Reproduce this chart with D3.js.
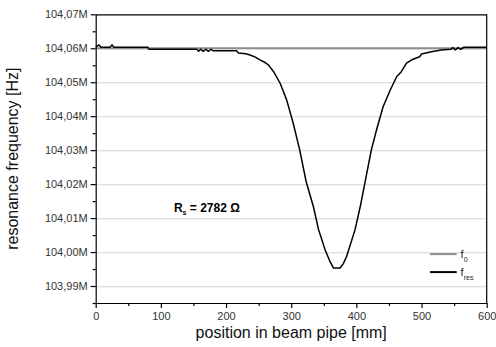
<!DOCTYPE html>
<html>
<head>
<meta charset="utf-8">
<script src="https://cdn.jsdelivr.net/npm/d3@7"></script>
<style>
  body { margin: 0; background: #fff; }
  svg { display: block; font-family: "Liberation Sans", Arial, sans-serif; }
</style>
</head>
<body>
<div id="chart"></div>
<script>
// measured position along the beam pipe [mm]
var positions = [0, 5, 8, 22, 25, 28, 80, 82, 155, 158, 161, 165, 169, 173, 177, 180, 216, 219,
  230, 237, 245, 252, 260, 265, 273, 283, 293, 303, 313, 323, 334, 342, 352, 360, 365, 375,
  380, 385, 398, 406, 413, 423, 431, 441, 452, 462, 469, 477, 485, 490, 497, 500, 515, 530,
  545, 548, 552, 556, 560, 565, 600];
// resonance frequency f_res [MHz]
var fres = [104.0603, 104.0610, 104.0603, 104.0603, 104.0610, 104.0603, 104.0603, 104.0597,
  104.0597, 104.0591, 104.0597, 104.0591, 104.0597, 104.0591, 104.0597, 104.0593, 104.0593,
  104.0586, 104.0584, 104.0580, 104.0574, 104.0566, 104.0558, 104.0551, 104.0531, 104.0497,
  104.0448, 104.0380, 104.0301, 104.0207, 104.0134, 104.0066, 104.0007, 103.9970, 103.9953,
  103.9953, 103.9966, 103.9987, 104.0066, 104.0134, 104.0203, 104.0301, 104.0360, 104.0428,
  104.0477, 104.0517, 104.0531, 104.0556, 104.0566, 104.0570, 104.0575, 104.0583, 104.0590,
  104.0595, 104.0597, 104.0602, 104.0595, 104.0602, 104.0597, 104.0603, 104.0603];
// unperturbed frequency f_0 [MHz]
var f0 = 104.06;
var xTicks = [0, 100, 200, 300, 400, 500, 600];
var yTicks = [103.99, 104.00, 104.01, 104.02, 104.03, 104.04, 104.05, 104.06, 104.07];
var rsValue = "2782";

var W = 496, H = 347;
var margin = {top: 14.3, right: 9.3, bottom: 44, left: 95.7};
var width = W - margin.left - margin.right,
    height = H - margin.top - margin.bottom;

var svg = d3.select("#chart").append("svg")
    .attr("width", W)
    .attr("height", H)
  .append("g")
    .attr("transform", "translate(" + margin.left + "," + margin.top + ")");

var x = d3.scaleLinear().domain([0, 600]).range([0, width]);
var y = d3.scaleLinear().domain([103.985, 104.07]).range([height, 0]);

// grid lines
svg.append("g")
  .selectAll("line")
  .data(yTicks.slice(0, -1))
  .enter().append("line")
    .attr("x1", 0).attr("x2", width)
    .attr("y1", function(d) { return Math.round(y(d)) + 0.5; })
    .attr("y2", function(d) { return Math.round(y(d)) + 0.5; })
    .attr("stroke", "#d4d4d4")
    .attr("stroke-width", 1);

// f0 line
var line = d3.line()
  .x(function(d) { return x(d[0]); })
  .y(function(d) { return y(d[1]); });

svg.append("path")
  .datum([[0, f0], [600, f0]])
  .attr("fill", "none")
  .attr("stroke", "#8c8c8c")
  .attr("stroke-width", 2)
  .attr("d", line);

svg.append("path")
  .datum(positions.map(function(p, i) { return [p, fres[i]]; }))
  .attr("fill", "none")
  .attr("stroke", "#000")
  .attr("stroke-width", 1.5)
  .attr("stroke-linejoin", "round")
  .attr("d", line);

// frame (top + right)
svg.append("path")
  .attr("d", "M0,0.5H" + width + "V" + height)
  .attr("fill", "none")
  .attr("stroke", "#000")
  .attr("stroke-width", 1.2);

// axes
var fmt = function(d) { return d3.format(".2f")(d).replace(".", ",") + "M"; };

var yMinor = d3.range(103.985, 104.0701, 0.005).filter(function(d) {
  return yTicks.every(function(t) { return Math.abs(t - d) > 1e-6; });
});
var xMinor = [50, 150, 250, 350, 450, 550];

svg.append("g")
  .call(d3.axisLeft(y).tickValues(yMinor).tickSize(3).tickFormat(""))
  .call(function(g) { g.select(".domain").remove(); });
svg.append("g")
  .attr("transform", "translate(0," + height + ")")
  .call(d3.axisBottom(x).tickValues(xMinor).tickSize(3).tickFormat(""))
  .call(function(g) { g.select(".domain").remove(); });

var yAxis = svg.append("g")
  .call(d3.axisLeft(y).tickValues(yTicks).tickSize(5).tickSizeOuter(0).tickPadding(3).tickFormat(fmt));
var xAxis = svg.append("g")
  .attr("transform", "translate(0," + height + ")")
  .call(d3.axisBottom(x).tickValues(xTicks).tickSize(5).tickSizeOuter(0).tickPadding(4));

svg.selectAll(".tick line, .domain").attr("stroke", "#000").attr("stroke-width", 1.2);
svg.selectAll(".tick text").attr("fill", "#333").style("font-size", "11px")
  .style("font-family", "'Liberation Sans', Arial, sans-serif");

// axis titles
svg.append("text")
  .attr("x", width / 2)
  .attr("y", height + 35)
  .attr("text-anchor", "middle")
  .style("font-size", "16px")
  .attr("fill", "#111")
  .text("position in beam pipe [mm]");

svg.append("text")
  .attr("transform", "translate(" + (-78) + "," + (height / 2) + ") rotate(-90)")
  .attr("text-anchor", "middle")
  .style("font-size", "16px")
  .attr("fill", "#111")
  .text("resonance frequency [Hz]");

// annotation
var rs = svg.append("text")
  .attr("x", x(120))
  .attr("y", y(104.0118))
  .style("font-size", "12px")
  .style("font-weight", "bold");
rs.append("tspan").text("R");
rs.append("tspan").attr("dy", 3).style("font-size", "7px").text("s");
rs.append("tspan").attr("dy", -3).text(" = " + rsValue + " \u03A9");

// legend
var legend = [
  {name: "0", color: "#8c8c8c", yv: 103.9994},
  {name: "res", color: "#000", yv: 103.9941}
];
var lg = svg.selectAll(".lg").data(legend).enter().append("g");
lg.append("line")
  .attr("x1", x(513)).attr("x2", x(554))
  .attr("y1", function(d) { return y(d.yv); })
  .attr("y2", function(d) { return y(d.yv); })
  .attr("stroke", function(d) { return d.color; })
  .attr("stroke-width", 2);
var lt = lg.append("text")
  .attr("x", x(560))
  .attr("y", function(d) { return y(d.yv) + 4; })
  .style("font-size", "11px")
  .attr("fill", "#222");
lt.append("tspan").text("f");
lt.append("tspan").attr("dy", 4).style("font-size", "7px").text(function(d) { return d.name; });
</script>
</body>
</html>
